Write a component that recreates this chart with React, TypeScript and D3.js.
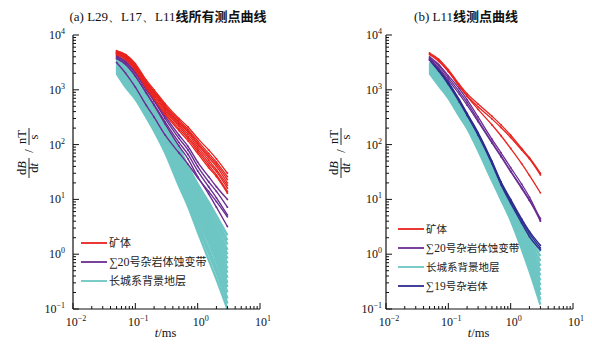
import React from 'react';
import * as d3 from 'd3';

// time samples (ms)
const times = [0.05, 0.07, 0.1, 0.15, 0.2, 0.3, 0.5, 0.7, 1, 1.5, 2, 3];

// ---------- panel (a) ----------
const aOre = [
  [5000, 4400, 3000, 1500, 1000, 560, 300, 210, 130, 80, 55, 30],
  [4900, 4200, 2800, 1400, 930, 520, 280, 190, 117, 69, 48, 26],
  [5200, 4300, 2750, 1380, 910, 490, 260, 180, 107, 63, 44, 23],
  [4800, 4000, 2600, 1300, 870, 470, 245, 170, 100, 58, 40, 20],
  [4700, 3900, 2550, 1250, 810, 440, 230, 155, 91, 52, 35, 18],
  [4600, 3800, 2450, 1200, 780, 410, 215, 140, 83, 47, 32, 16],
  [4500, 3700, 2350, 1150, 720, 380, 195, 130, 76, 42, 28, 14],
  [4400, 3550, 2250, 1070, 680, 355, 180, 117, 69, 38, 26, 13],
];
const aAlter = [
  [4200, 3300, 2100, 1070, 660, 330, 150, 93, 48, 26, 17, 10],
  [4000, 3200, 2000, 1000, 620, 300, 130, 80, 40, 21, 14, 7.2],
  [3800, 2950, 1800, 890, 540, 260, 110, 66, 33, 17, 10.7, 5.2],
  [3700, 2900, 1780, 870, 520, 240, 95, 55, 26, 12.6, 7.2, 3.2],
  [3160, 2000, 1120, 520, 316, 150, 71, 44, 25, 14, 9.1, 4.8],
];
const aBackground = [
  [4200, 2800, 1600, 790, 480, 220, 89, 40, 19, 8.9, 5.0, 2.2],
  [4000, 2600, 1500, 740, 450, 210, 80, 36, 17, 7.7, 4.2, 1.8],
  [3800, 2500, 1400, 700, 420, 195, 73, 33, 15, 6.7, 3.7, 1.5],
  [3600, 2300, 1300, 660, 390, 180, 66, 30, 13, 5.8, 3.1, 1.2],
  [3400, 2200, 1250, 620, 370, 170, 59, 27, 12, 5.0, 2.6, 1.0],
  [3300, 2100, 1200, 590, 345, 160, 54, 24, 10.5, 4.4, 2.3, 0.83],
  [3100, 1950, 1130, 550, 320, 145, 49, 22, 9.3, 3.8, 1.9, 0.68],
  [2950, 1830, 1060, 515, 300, 135, 44, 20, 8.2, 3.3, 1.6, 0.55],
  [2800, 1730, 1000, 490, 280, 126, 40, 18, 7.4, 2.9, 1.4, 0.46],
  [2700, 1620, 950, 460, 264, 117, 36, 16, 6.5, 2.5, 1.17, 0.37],
  [2550, 1520, 900, 430, 250, 108, 33, 14.6, 5.7, 2.1, 0.99, 0.3],
  [2430, 1440, 850, 405, 232, 102, 30, 13.3, 5.1, 1.87, 0.86, 0.25],
  [2310, 1350, 800, 380, 217, 94, 27, 12, 4.5, 1.6, 0.72, 0.2],
  [2200, 1260, 755, 356, 202, 85, 23, 10.2, 3.7, 1.25, 0.56, 0.155],
  [2100, 1200, 718, 337, 190, 79, 20.5, 9.0, 3.2, 1.05, 0.46, 0.125],
  [2000, 1120, 680, 316, 178, 72, 18, 7.6, 2.6, 0.8, 0.35, 0.1],
];

// ---------- panel (b) ----------
const bOre = [
  [4700, 3630, 2340, 1260, 850, 550, 331, 229, 148, 85, 57.5, 30],
  [4500, 3450, 2200, 1180, 780, 490, 295, 205, 135, 80, 55, 28],
  [4400, 3300, 2140, 1150, 760, 440, 230, 145, 85, 45, 27.5, 13.2],
];
const bAlter = [
  [4000, 2900, 1820, 1050, 660, 320, 126, 71, 38, 19, 11, 4.2],
  [3800, 2750, 1660, 930, 590, 280, 112, 63, 33, 16.6, 9.8, 4.0],
  [3550, 2500, 1500, 830, 525, 263, 107, 60, 32, 15.8, 9.5, 4.5],
];
const bIntrusion = [
  [3800, 2400, 1380, 660, 370, 166, 50, 21, 10, 4.4, 2.6, 1.45],
  [3600, 2300, 1320, 630, 355, 158, 48, 20, 9.3, 4.1, 2.4, 1.3],
  [3470, 2200, 1260, 600, 340, 148, 45, 18.6, 8.5, 3.7, 2.1, 1.2],
];
const bBackground = [
  [3200, 2000, 1180, 560, 316, 141, 42, 17.8, 8.3, 3.55, 2.14, 1.12],
  [3030, 1900, 1120, 536, 303, 134, 39.4, 16.9, 7.8, 3.2, 1.88, 0.92],
  [2910, 1820, 1070, 512, 291, 127, 37.2, 16.0, 7.3, 2.9, 1.65, 0.75],
  [2790, 1740, 1030, 488, 279, 121, 35.2, 15.2, 6.9, 2.7, 1.45, 0.61],
  [2680, 1660, 980, 465, 268, 115, 33.3, 14.5, 6.5, 2.44, 1.27, 0.5],
  [2570, 1590, 935, 443, 257, 109, 31.5, 13.7, 6.1, 2.22, 1.11, 0.41],
  [2450, 1510, 890, 420, 245, 103, 29.6, 12.9, 5.7, 2.0, 0.96, 0.33],
  [2360, 1440, 850, 401, 235, 98, 28, 12.3, 5.3, 1.83, 0.85, 0.27],
  [2260, 1380, 810, 382, 226, 93, 26.5, 11.7, 5.0, 1.66, 0.74, 0.22],
  [2170, 1320, 776, 364, 217, 88, 25, 11.1, 4.7, 1.52, 0.65, 0.18],
  [2080, 1260, 741, 348, 208, 84, 23.7, 10.5, 4.4, 1.38, 0.57, 0.147],
  [2000, 1200, 708, 331, 200, 79, 22.4, 10, 4.2, 1.26, 0.5, 0.12],
];

const titleA = [{ t: '(a) L29、L17、L11', cjk: false }, { t: '线所有测点曲线', cjk: true }];
const titleB = [{ t: '(b) L11', cjk: false }, { t: '线测点曲线', cjk: true }];
const legendA = ['矿体', '∑20号杂岩体蚀变带', '长城系背景地层'];
const legendB = ['矿体', '∑20号杂岩体蚀变带', '长城系背景地层', '∑19号杂岩体'];

const RED = '#e8231e';
const PURPLE = '#6a2d92';
const CYAN = '#6dc6c3';
const NAVY = '#2d2d8f';

const SERIF = "'Liberation Serif', 'Times New Roman', serif";
const CJK = "'Noto Sans CJK SC', sans-serif";

const xDomain: [number, number] = [0.01, 10];
const yDomain: [number, number] = [0.1, 10000];

function Pow10({ e, x, y, anchor }: { e: number; x: number; y: number; anchor: string }) {
  const exp = e < 0 ? '\u2212' + Math.abs(e) : String(e);
  return (
    <text x={x} y={y} textAnchor={anchor as any} fontFamily={SERIF} fontSize={12} fill="#111">
      10<tspan dy={-5} fontSize={8}>{exp}</tspan>
    </text>
  );
}

function LegendLabel({ x, y, label, size }: { x: number; y: number; label: string; size: number }) {
  const m = label.match(/^(∑\d+)(.*)$/);
  return (
    <text x={x} y={y} fontSize={size} fill="#222" fontFamily={CJK}>
      {m ? (
        <>
          <tspan fontFamily={SERIF} fontSize={size + 1}>{m[1]}</tspan>
          <tspan>{m[2]}</tspan>
        </>
      ) : label}
    </text>
  );
}

type Group = { data: number[][]; color: string; width: number; dot: number };

function Panel({ x0, x1, groups, title, titleX, legend, legendColors, legendX, legendY, legendGap, legendFont, yLabelX, yTickGap }:
  { x0: number; x1: number; groups: Group[]; title: { t: string; cjk: boolean }[]; titleX: number; legend: string[]; legendColors: string[]; legendX: number; legendY: number; legendGap: number; legendFont: number; yLabelX: number; yTickGap: number }) {
  const yTop = 35, yBot = 309;
  const x = d3.scaleLog().domain(xDomain).range([x0, x1]);
  const y = d3.scaleLog().domain(yDomain).range([yBot, yTop]);
  const line = d3.line<number>().x((_, i) => x(times[i])).y((d) => y(d)).curve(d3.curveMonotoneX);
  const isMajor = (v: number) => Math.abs(Math.log10(v) - Math.round(Math.log10(v))) < 1e-6;
  const yTicks = y.ticks();
  const xTicks = x.ticks();
  return (
    <g>
      <text x={titleX} y={21} textAnchor="middle" fontSize={13} fill="#111">
        {title.map((p, i) => (
          <tspan key={i} fontFamily={p.cjk ? CJK : SERIF} fontWeight={p.cjk ? 'bold' : 'normal'}>{p.t}</tspan>
        ))}
      </text>
      {groups.map((g, gi) => (
        <g key={gi}>
          {g.data.map((s, si) => (
            <g key={si}>
              <path d={line(s) || ''} fill="none" stroke={g.color} strokeWidth={g.width} />
              {g.dot > 0 && s.map((v, i) => (
                <circle key={i} cx={x(times[i])} cy={y(v)} r={g.dot} fill={g.color} />
              ))}
            </g>
          ))}
        </g>
      ))}
      {/* axes */}
      <line x1={x0} x2={x0} y1={yTop} y2={yBot} stroke="#111" strokeWidth={1.2} />
      <line x1={x0} x2={x1} y1={yBot} y2={yBot} stroke="#111" strokeWidth={1.2} />
      {yTicks.map((v, i) => (
        <line key={i} x1={x0} x2={x0 + (isMajor(v) ? 6 : 3)} y1={y(v)} y2={y(v)} stroke="#111" strokeWidth={1} />
      ))}
      {xTicks.map((v, i) => (
        <line key={i} x1={x(v)} x2={x(v)} y1={yBot} y2={yBot - (isMajor(v) ? 6 : 3)} stroke="#111" strokeWidth={1} />
      ))}
      {yTicks.filter(isMajor).map((v, i) => (
        <Pow10 key={i} e={Math.round(Math.log10(v))} x={x0 - yTickGap} y={y(v) + 4} anchor="end" />
      ))}
      {xTicks.filter(isMajor).map((v, i) => (
        <Pow10 key={i} e={Math.round(Math.log10(v))} x={x(v) + 3} y={326} anchor="middle" />
      ))}
      <text x={(x0 + x1) / 2 - 1} y={337} textAnchor="middle" fontFamily={SERIF} fontSize={12.5} fill="#111">
        <tspan fontStyle="italic">t</tspan>/ms
      </text>
      {/* y label */}
      <g transform={`translate(${yLabelX},154) rotate(-90)`} fontFamily={SERIF} fontSize={12.5} fill="#111">
        <text x={-14} y={-3} textAnchor="middle">d<tspan fontStyle="italic">B</tspan></text>
        <line x1={-24} x2={-4} y1={0} y2={0} stroke="#111" strokeWidth={0.9} />
        <text x={-14} y={9} textAnchor="middle">d<tspan fontStyle="italic">t</tspan></text>
        <text x={3} y={4} textAnchor="middle">/</text>
        <text x={17} y={-3} textAnchor="middle">nT</text>
        <line x1={9} x2={26} y1={0} y2={0} stroke="#111" strokeWidth={0.9} />
        <text x={17} y={9} textAnchor="middle">s</text>
      </g>
      {/* legend */}
      {legend.map((lab, i) => (
        <g key={i}>
          <line x1={legendX} x2={legendX + 26} y1={legendY + i * legendGap} y2={legendY + i * legendGap} stroke={legendColors[i]} strokeWidth={1.8} />
          <LegendLabel x={legendX + 28} y={legendY + i * legendGap + 4} label={lab} size={legendFont} />
        </g>
      ))}
    </g>
  );
}

export default function App() {
  return (
    <svg width={592} height={345} style={{ position: 'absolute', left: 0, top: 0, background: '#fff' }}>
      <Panel
        x0={73} x1={260}
        groups={[
          { data: aBackground, color: CYAN, width: 2.4, dot: 0 },
          { data: aAlter, color: PURPLE, width: 1.4, dot: 0.9 },
          { data: aOre, color: RED, width: 1.3, dot: 0.9 },
        ]}
        title={titleA} titleX={168}
        legend={legendA} legendColors={[RED, PURPLE, CYAN]}
        legendX={81} legendY={243} legendGap={19} legendFont={11}
        yLabelX={29} yTickGap={8}
      />
      <Panel
        x0={386} x1={573}
        groups={[
          { data: bBackground, color: CYAN, width: 2.4, dot: 0 },
          { data: bIntrusion, color: NAVY, width: 1.4, dot: 0.9 },
          { data: bAlter, color: PURPLE, width: 1.3, dot: 0.9 },
          { data: bOre, color: RED, width: 1.3, dot: 0.9 },
        ]}
        title={titleB} titleX={466}
        legend={legendB} legendColors={[RED, PURPLE, CYAN, NAVY]}
        legendX={398} legendY={229} legendGap={19} legendFont={10.5}
        yLabelX={341} yTickGap={4}
      />
    </svg>
  );
}
